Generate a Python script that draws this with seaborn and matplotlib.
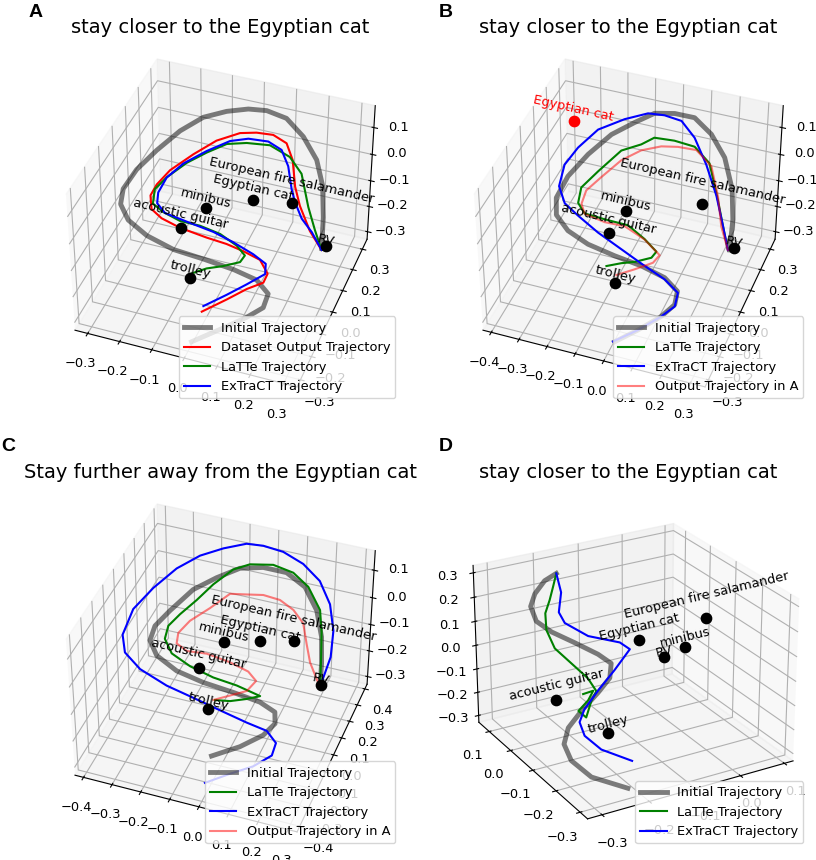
import matplotlib
matplotlib.use("Agg")
import matplotlib.pyplot as plt
import seaborn as sns
import numpy as np

sns.reset_orig()
plt.rcParams['font.size'] = 9.4

object_names = ["RV", "trolley", "acoustic guitar", "minibus", "Egyptian cat", "European fire salamander"]

# Panel A
a_init_x = [.232,.209,.181,.143,.087,.025,-.028,-.066,-.119,-.184,-.240,-.281,-.313,-.326,-.321,-.282,-.214,-.127,-.034,.056,.127,.171,.170,.135,.073,.007]
a_init_y = [.228,.311,.385,.439,.474,.494,.460,.398,.352,.325,.275,.187,.103,.028,-.007,-.045,-.070,-.080,-.079,-.071,-.070,-.094,-.134,-.179,-.233,-.289]
a_init_z = [-.30,-.25,-.19,-.14,-.09,-.05,-.01,.03,.04,.02,-.01,-.03,-.05,-.07,-.10,-.12,-.14,-.16,-.17,-.19,-.21,-.23,-.25,-.26,-.28,-.30]
a_data_x = [.234,.190,.146,.122,.093,.065,.030,-.004,-.045,-.107,-.162,-.209,-.231,-.239,-.227,-.193,-.135,-.054,.006,.056,.107,.141,.135,.095,.048,-.010]
a_data_y = [.221,.237,.270,.293,.353,.376,.352,.296,.265,.231,.182,.111,.058,.027,.003,-.004,-.004,.003,.007,.015,.017,-.012,-.032,-.064,-.106,-.160]
a_data_z = a_init_z
a_latte_x = [.234,.207,.175,.128,.088,.033,-.019,-.064,-.119,-.166,-.211,-.233,-.228,-.194,-.146,-.092,-.031,.025,.055,.044,-.004,-.055,-.097]
a_latte_y = [.221,.234,.262,.335,.340,.313,.251,.202,.179,.137,.088,.047,.017,.013,.025,.047,.054,.043,.031,.020,.008,.002,-.013]
a_latte_z = [-.30,-.24,-.18,-.12,-.07,-.02,.02,.04,.01,-.01,-.04,-.06,-.09,-.11,-.14,-.16,-.18,-.20,-.22,-.24,-.26,-.28,-.30]
a_extract_x = [.234,.201,.170,.149,.138,.109,.081,.047,-.017,-.073,-.135,-.188,-.220,-.232,-.226,-.197,-.131,-.049,.014,.080,.125,.131,.088,.041,-.014]
a_extract_y = [.221,.222,.215,.211,.208,.260,.279,.255,.260,.255,.222,.166,.110,.070,.045,.033,.040,.045,.043,.034,.017,-.005,-.045,-.087,-.136]
a_extract_z = [-.30,-.24,-.19,-.13,-.08,-.04,.00,.04,.03,.01,-.02,-.04,-.06,-.09,-.11,-.13,-.15,-.17,-.19,-.21,-.22,-.24,-.26,-.28,-.30]
a_obj_x = [.242,-.073,-.158,-.099,.020,.132]
a_obj_y = [.242,-.087,.062,.119,.200,.230]
a_obj_z = [-.30,-.25,-.20,-.15,-.15,-.15]

# Panel B
b_init_x = [.229,.212,.182,.124,.060,-.003,-.057,-.103,-.165,-.227,-.279,-.311,-.322,-.299,-.243,-.165,-.070,.022,.106,.160,.165,.134,.076,.015]
b_init_y = [.221,.292,.360,.438,.473,.472,.421,.351,.325,.270,.192,.097,.026,-.025,-.058,-.073,-.073,-.067,-.071,-.093,-.129,-.169,-.225,-.274]
b_init_z = [-.30,-.24,-.18,-.13,-.08,-.03,.01,.05,.02,.00,-.03,-.05,-.08,-.10,-.12,-.14,-.16,-.18,-.20,-.22,-.24,-.26,-.28,-.30]
b_latte_x = [.223,.194,.160,.097,.041,-.012,-.058,-.102,-.159,-.219,-.252,-.248,-.223,-.158,-.082,-.019,.032,.018,-.041,-.091,-.143]
b_latte_y = [.219,.242,.280,.359,.360,.306,.238,.231,.195,.138,.073,.037,.032,.049,.069,.060,.040,.031,.029,.031,.025]
b_latte_z = [-.30,-.23,-.17,-.10,-.05,.00,.05,.02,.01,-.04,-.06,-.09,-.12,-.14,-.16,-.19,-.21,-.23,-.26,-.28,-.30]
b_extract_x = [.223,.191,.142,.075,.011,-.040,-.087,-.124,-.204,-.280,-.325,-.345,-.336,-.295,-.240,-.155,-.061,.033,.109,.164,.168,.134,.076,.009]
b_extract_y = [.219,.252,.313,.387,.439,.443,.402,.344,.330,.279,.212,.145,.079,.033,.016,-.014,-.039,-.064,-.078,-.099,-.136,-.169,-.225,-.275]
b_extract_z = b_init_z
b_prev_x = [.223,.190,.157,.112,.057,.015,-.025,-.096,-.156,-.203,-.241,-.246,-.227,-.162,-.101,-.027,.040,.023,-.037,-.095]
b_prev_y = [.219,.237,.287,.336,.334,.269,.218,.216,.187,.127,.088,.059,.041,.059,.084,.080,.050,.033,.019,-.003]
b_prev_z = [-.30,-.23,-.16,-.09,-.04,.01,.04,.01,-.02,-.05,-.08,-.11,-.13,-.16,-.18,-.21,-.23,-.25,-.28,-.30]
b_obj_x = [.240,-.062,-.148,-.110,-.321,.123]
b_obj_y = [.236,-.091,.061,.120,.173,.226]
b_obj_z = [-.30,-.25,-.20,-.15,.10,-.15]

# Panel C
c_init_x = [.194,.184,.164,.129,.073,.011,-.053,-.115,-.186,-.247,-.295,-.323,-.327,-.288,-.213,-.120,-.019,.070,.124,.135,.109,.048,-.032]
c_init_y = [.310,.356,.418,.473,.517,.499,.435,.368,.330,.263,.159,.085,.043,-.002,-.017,-.017,-.004,.006,.000,-.033,-.081,-.143,-.200]
c_init_z = [-.30,-.24,-.18,-.12,-.07,-.02,.02,.04,.01,-.01,-.04,-.06,-.09,-.11,-.14,-.16,-.18,-.20,-.22,-.24,-.26,-.28,-.30]
c_latte_x = [.194,.178,.161,.143,.087,.037,-.017,-.096,-.154,-.199,-.237,-.278,-.303,-.305,-.266,-.195,-.112,-.034,.044,-.002,-.059,-.117]
c_latte_y = [.310,.370,.428,.464,.507,.491,.431,.420,.416,.335,.269,.212,.162,.129,.086,.068,.065,.080,.095,.090,.085,.099]
c_latte_z = [-.30,-.24,-.17,-.11,-.06,-.01,.04,.03,.00,-.02,-.05,-.08,-.10,-.13,-.15,-.17,-.19,-.21,-.24,-.26,-.28,-.30]
c_extract_x = [.194,.199,.184,.149,.097,.031,-.037,-.093,-.135,-.215,-.286,-.346,-.392,-.424,-.423,-.392,-.324,-.217,-.123,-.030,.063,.133,.172,.171,.124,.062,-.008]
c_extract_y = [.310,.419,.500,.574,.621,.638,.620,.565,.506,.497,.455,.380,.267,.151,.039,-.026,-.068,-.108,-.111,-.115,-.118,-.122,-.146,-.188,-.239,-.292,-.343]
c_extract_z = [-.30,-.25,-.20,-.15,-.10,-.06,-.02,.02,.05,.02,.00,-.02,-.04,-.06,-.09,-.11,-.13,-.14,-.16,-.18,-.20,-.21,-.23,-.25,-.27,-.28,-.30]
c_prev_x = [.183,.150,.133,.116,.084,.047,.010,-.056,-.114,-.175,-.224,-.253,-.254,-.219,-.161,-.087,-.022,.010,-.015,-.069,-.123]
c_prev_y = [.327,.331,.341,.350,.337,.299,.228,.257,.255,.225,.158,.120,.104,.104,.144,.170,.171,.158,.134,.115,.097]
c_prev_z = [-.30,-.23,-.17,-.10,-.05,.00,.05,.02,.01,-.04,-.06,-.09,-.12,-.14,-.16,-.19,-.21,-.23,-.26,-.28,-.30]
c_obj_x = [.193,-.099,-.179,-.123,-.010,.095]
c_obj_y = [.321,-.029,.114,.219,.268,.315]
c_obj_z = [-.30,-.25,-.20,-.15,-.15,-.15]

# Panel D
d_init_x = [-.193,-.207,-.226,-.240,-.237,-.214,-.178,-.138,-.115,-.134,-.171,-.221,-.258,-.283,-.289,-.274,-.223]
d_init_y = [.062,.086,.092,.083,.065,.045,.016,-.006,-.018,-.048,-.068,-.095,-.111,-.142,-.184,-.238,-.288]
d_init_z = [.30,.26,.21,.17,.12,.08,.04,-.01,-.05,-.08,-.11,-.14,-.18,-.21,-.24,-.27,-.30]
d_latte_x = [-.193,-.201,-.210,-.220,-.229,-.229,-.208,-.187,-.180,-.195,-.217,-.202,-.143,-.098,-.103]
d_latte_y = [.062,.061,.059,.059,.037,.001,-.028,-.057,-.079,-.086,-.107,-.044,.029,.094,.130]
d_latte_z = [.30,.25,.20,.15,.10,.05,.00,-.05,-.09,-.12,-.16,-.19,-.23,-.26,-.30]
d_extract_x = [-.193,-.201,-.217,-.204,-.162,-.096,-.067,-.114,-.166,-.208,-.228,-.228,-.209,-.162]
d_extract_y = [.062,.026,.005,.006,-.011,-.019,-.007,-.030,-.059,-.082,-.100,-.121,-.154,-.192]
d_extract_z = [.30,.25,.19,.14,.08,.03,-.02,-.07,-.11,-.15,-.18,-.22,-.26,-.30]
d_obj_x = [.075,-.144,-.212,.080,.017,.193]
d_obj_y = [.104,-.058,.034,.028,.107,.134]
d_obj_z = [-.20,-.30,-.20,-.10,-.10,-.10]

init_lab, data_lab, latte_lab, extract_lab, prev_lab = ("Initial Trajectory", "Dataset Output Trajectory",
    "LaTTe Trajectory", "ExTraCT Trajectory", "Output Trajectory in A")
pal = dict(zip([init_lab, data_lab, latte_lab, extract_lab, prev_lab],
               sns.color_palette(["black", "red", "green", "blue", "red"])))

def style(lab):
    if lab == init_lab:
        return dict(lw=3.5, alpha=.5)
    if lab == prev_lab:
        return dict(lw=1.5, alpha=.5)
    return dict(lw=1.5)

panels = [
 dict(letter="A", lx=29, ly=17, pos=(38, 41), title="stay closer to the Egyptian cat", view=(40, -70),
      lim=((-.34,.34),(-.33,.35),(-.33,.18)), xt=[-.3,-.2,-.1,0,.1,.2,.3], yt=[-.3,-.2,-.1,0,.1,.2,.3], zt=[-.3,-.2,-.1,0,.1],
      lines=[(init_lab,a_init_x,a_init_y,a_init_z),(data_lab,a_data_x,a_data_y,a_data_z),(latte_lab,a_latte_x,a_latte_y,a_latte_z),(extract_lab,a_extract_x,a_extract_y,a_extract_z)],
      obj=(a_obj_x,a_obj_y,a_obj_z), red=False),
 dict(letter="B", lx=439, ly=17, pos=(446, 41), title="stay closer to the Egyptian cat", view=(40, -70),
      lim=((-.43,.35),(-.33,.35),(-.33,.18)), xt=[-.4,-.3,-.2,-.1,0,.1,.2,.3], yt=[-.3,-.2,-.1,0,.1,.2,.3], zt=[-.3,-.2,-.1,0,.1],
      lines=[(init_lab,b_init_x,b_init_y,b_init_z),(latte_lab,b_latte_x,b_latte_y,b_latte_z),(extract_lab,b_extract_x,b_extract_y,b_extract_z),(prev_lab,b_prev_x,b_prev_y,b_prev_z)],
      obj=(b_obj_x,b_obj_y,b_obj_z), red=True),
 dict(letter="C", lx=1, ly=451, pos=(38, 486), title="Stay further away from the Egyptian cat", view=(40, -70),
      lim=((-.43,.33),(-.43,.43),(-.33,.17)), xt=[-.4,-.3,-.2,-.1,0,.1,.2,.3], yt=[-.4,-.3,-.2,-.1,0,.1,.2,.3,.4], zt=[-.3,-.2,-.1,0,.1],
      lines=[(init_lab,c_init_x,c_init_y,c_init_z),(latte_lab,c_latte_x,c_latte_y,c_latte_z),(extract_lab,c_extract_x,c_extract_y,c_extract_z),(prev_lab,c_prev_x,c_prev_y,c_prev_z)],
      obj=(c_obj_x,c_obj_y,c_obj_z), red=False),
 dict(letter="D", lx=439, ly=451, pos=(446, 486), title="stay closer to the Egyptian cat", view=(25, -120),
      lim=((-.33,.12),(-.33,.15),(-.33,.33)), xt=[-.3,-.2,-.1,0,.1], yt=[-.3,-.2,-.1,0,.1], zt=[-.3,-.2,-.1,0,.1,.2,.3],
      lines=[(init_lab,d_init_x,d_init_y,d_init_z),(latte_lab,d_latte_x,d_latte_y,d_latte_z),(extract_lab,d_extract_x,d_extract_y,d_extract_z)],
      obj=(d_obj_x,d_obj_y,d_obj_z), red=False),
]

W, H, S = 816, 860, 364
fig = plt.figure(figsize=(W/100, H/100), dpi=100)
for p in panels:
    l, t = p["pos"]
    ax = fig.add_axes([l/W, 1-(t+S)/H, S/W, S/H], projection='3d')
    for lab, x, y, z in p["lines"]:
        ax.plot(x, y, z, color=pal[lab], label=lab, **style(lab))
    ox, oy, oz = p["obj"]
    for i, name in enumerate(object_names):
        col = 'red' if (p["red"] and name == "Egyptian cat") else 'black'
        ax.scatter(ox[i], oy[i], oz[i], color=col, s=55, depthshade=False)
        ax.text(ox[i], oy[i], oz[i], name, zdir='x', ha='center', color=col)
    ax.set_xlim(*p["lim"][0]); ax.set_ylim(*p["lim"][1]); ax.set_zlim(*p["lim"][2])
    ax.set_xticks(p["xt"]); ax.set_yticks(p["yt"]); ax.set_zticks(p["zt"])
    ax.view_init(*p["view"])
    ax.set_title(p["title"], fontsize=14)
    ax.legend(loc='lower right')
    fig.text(p["lx"]/W, 1-p["ly"]/H, p["letter"], family='Liberation Sans', fontweight='bold', fontsize=14)
fig.savefig('out.png', dpi=100)
